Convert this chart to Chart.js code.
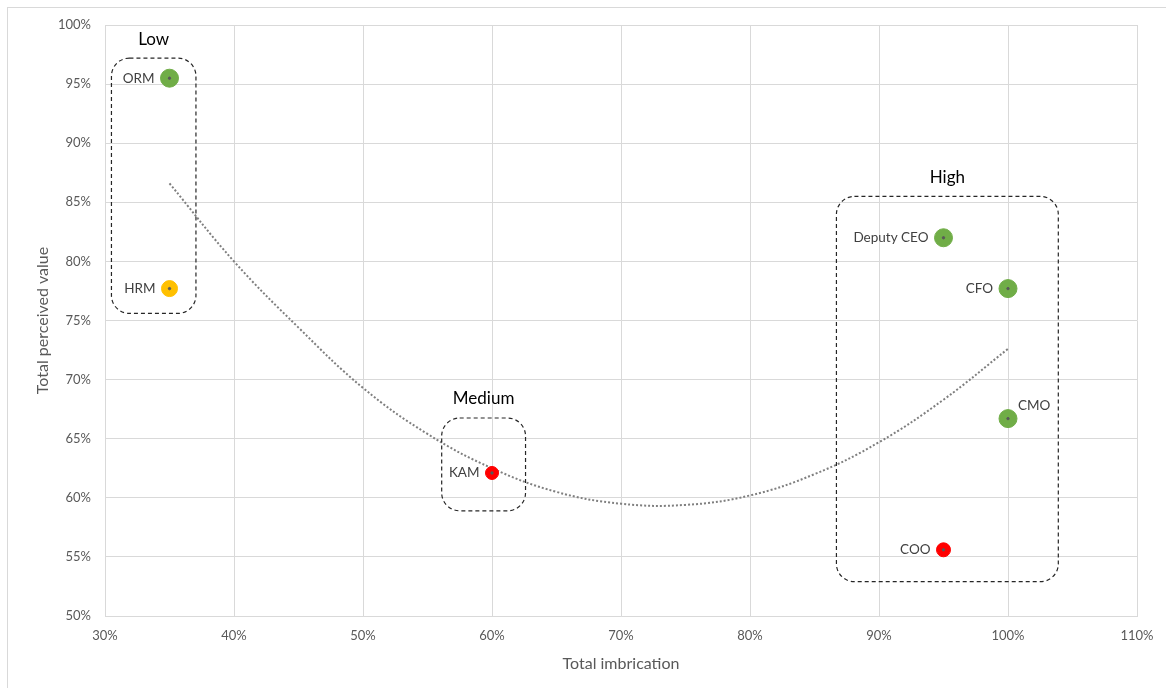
<!DOCTYPE html>
<html>
<head>
<meta charset="utf-8">
<script src="https://cdn.jsdelivr.net/npm/chart.js@4.4.1/dist/chart.umd.min.js"></script>
<style>
  html, body { margin: 0; padding: 0; background: #fff; }
  #wrap { width: 1166px; height: 688px; position: relative; }
</style>
</head>
<body>
<div id="wrap"><canvas id="chart"></canvas></div>
<script>
// ---- data (percent) ----
const roles      = ["ORM", "HRM", "KAM", "Deputy CEO", "CFO", "CMO", "COO"];
const imbrication = [35, 35, 60, 95, 100, 100, 95];
const perceived   = [95.5, 77.7, 62.1, 82.0, 77.7, 66.7, 55.6];
const roleColors  = ["#70AD47", "#FFC000", "#FF0000", "#70AD47", "#70AD47", "#70AD47", "#FF0000"];
const roleSizes   = [9, 8, 6.5, 9, 9, 9, 7];
const labelSide   = ["left", "left", "left", "left", "left", "above", "left"];

// trend line
const trendX = [35, 40, 45, 50, 55, 60, 65, 70, 75, 80, 85, 90, 95, 100];
const trendY = [86.6, 80.0, 74.4, 69.3, 65.4, 62.5, 60.5, 59.5, 59.4, 60.2, 62.0, 64.7, 68.3, 72.6];

// groups: [name, xMin, xMax, yMin, yMax]
const groups = [
  ["Low",    30.5, 37.05, 75.6, 97.2],
  ["Medium", 56.1, 62.6, 58.9, 66.75],
  ["High",   86.7, 103.9, 52.9, 85.5]
];

const FONT = "Lato, 'Open Sans', sans-serif";

// ---- plugins ----
const frame = {
  id: 'frame',
  beforeDraw(chart) {
    const ctx = chart.ctx;
    ctx.save();
    ctx.strokeStyle = '#d9d9d9';
    ctx.lineWidth = 1;
    ctx.strokeRect(7.5, 7.5, chart.width + 20, chart.height + 20);
    ctx.restore();
  }
};

const groupBoxes = {
  id: 'groupBoxes',
  afterDatasetsDraw(chart) {
    const ctx = chart.ctx;
    const xs = chart.scales.x, ys = chart.scales.y;
    ctx.save();
    groups.forEach(g => {
      const x1 = xs.getPixelForValue(g[1]), x2 = xs.getPixelForValue(g[2]);
      const y1 = ys.getPixelForValue(g[4]), y2 = ys.getPixelForValue(g[3]);
      const r = Math.min(18, (x2 - x1) / 4);
      ctx.setLineDash([4, 3]);
      ctx.strokeStyle = '#262626';
      ctx.lineWidth = 1.2;
      ctx.beginPath();
      ctx.roundRect(x1, y1, x2 - x1, y2 - y1, r);
      ctx.stroke();
      ctx.setLineDash([]);
      ctx.fillStyle = '#000';
      ctx.font = "17px " + FONT;
      ctx.textAlign = 'center';
      ctx.textBaseline = 'middle';
      ctx.fillText(g[0], (x1 + x2) / 2, y1 - 19);
    });
    ctx.restore();
  }
};

const pointLabels = {
  id: 'pointLabels',
  afterDatasetsDraw(chart) {
    const ctx = chart.ctx;
    const meta = chart.getDatasetMeta(1);
    ctx.save();
    ctx.font = "13.5px " + FONT;
    ctx.fillStyle = '#404040';
    ctx.textBaseline = 'middle';
    meta.data.forEach((pt, i) => {
      const r = roleSizes[i];
      if (labelSide[i] === 'above') {
        ctx.textAlign = 'left';
        ctx.fillText(roles[i], pt.x + 10, pt.y - 13);
      } else {
        ctx.textAlign = 'right';
        ctx.fillText(roles[i], pt.x - r - 6, pt.y);
      }
    });
    ctx.restore();
  }
};

// ---- chart ----
new Chart(document.getElementById('chart'), {
  type: 'scatter',
  data: {
    datasets: [
      {
        label: 'Trend',
        type: 'line',
        data: trendX.map((x, i) => ({ x: x, y: trendY[i] })),
        borderColor: '#7f7f7f',
        borderWidth: 2,
        borderDash: [2, 2],
        pointRadius: 0,
        tension: 0.4,
        fill: false,
        order: 3
      },
      {
        label: 'Roles',
        data: imbrication.map((x, i) => ({ x: x, y: perceived[i] })),
        backgroundColor: roleColors,
        borderColor: roleColors,
        pointRadius: roleSizes,
        pointHoverRadius: roleSizes,
        order: 2
      },
      {
        label: 'Centers',
        data: imbrication.map((x, i) => ({ x: x, y: perceived[i] })),
        backgroundColor: '#595959',
        borderColor: '#595959',
        pointRadius: 1.2,
        order: 1
      }
    ]
  },
  options: {
    responsive: true,
    maintainAspectRatio: false,
    animation: false,
    events: [],
    layout: { padding: { left: 0, top: 25, right: 29, bottom: 0 } },
    plugins: {
      legend: { display: false },
      tooltip: { enabled: false }
    },
    scales: {
      x: {
        type: 'linear',
        min: 30, max: 110,
        afterFit(scale) { scale.height = 72; },
        grid: { color: '#d9d9d9', drawTicks: false },
        border: { color: '#d9d9d9' },
        ticks: {
          stepSize: 10,
          padding: 12,
          color: '#595959',
          font: { family: FONT, size: 13 },
          callback: v => v + '%'
        },
        title: {
          display: true,
          text: 'Total imbrication',
          color: '#595959',
          font: { family: FONT, size: 16 },
          padding: { top: 0, bottom: 15 }
        }
      },
      y: {
        type: 'linear',
        min: 50, max: 100,
        afterFit(scale) { scale.width = 105; },
        grid: { color: '#d9d9d9', drawTicks: false },
        border: { color: '#d9d9d9' },
        ticks: {
          stepSize: 5,
          padding: 14,
          color: '#595959',
          font: { family: FONT, size: 13 },
          callback: v => v + '%'
        },
        title: {
          display: true,
          text: 'Total perceived value',
          color: '#595959',
          font: { family: FONT, size: 16 },
          padding: { top: 33, bottom: 0 }
        }
      }
    }
  },
  plugins: [frame, groupBoxes, pointLabels]
});
</script>
</body>
</html>
